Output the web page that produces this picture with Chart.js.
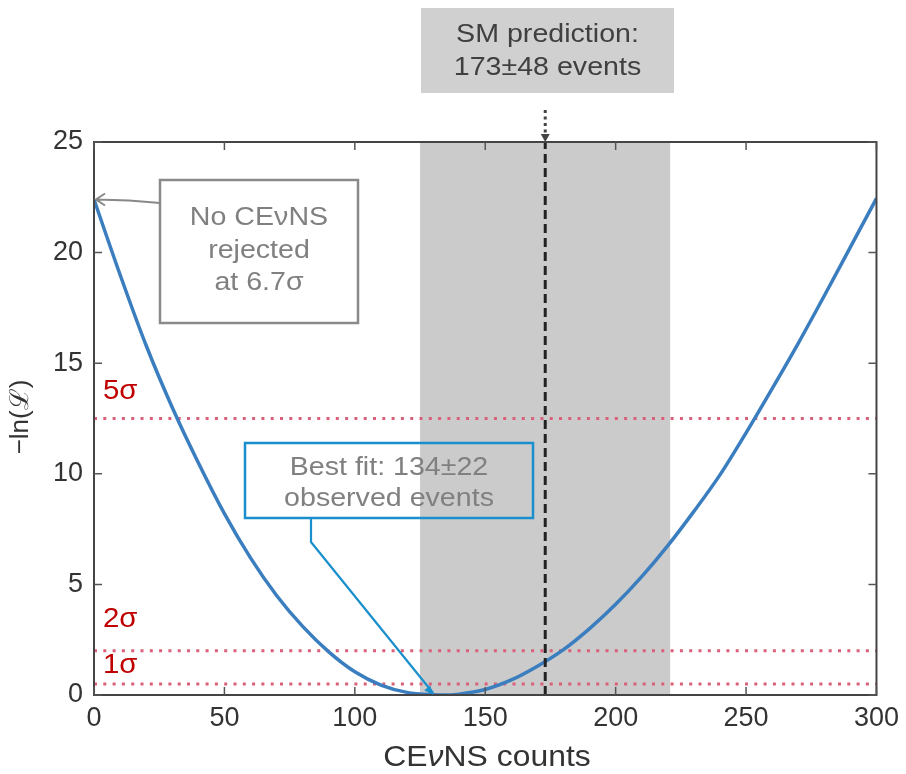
<!DOCTYPE html>
<html>
<head>
<meta charset="utf-8">
<script src="https://cdn.jsdelivr.net/npm/chart.js@4.4.1/dist/chart.umd.min.js"></script>
<style>
  html, body { margin: 0; padding: 0; background: #fff; }
  canvas { display: block; }
</style>
</head>
<body>
<canvas id="chart" width="906" height="774"></canvas>
<script>
// curve: -ln(L) against CEvNS counts
const counts = [0, 10, 20, 30, 40, 50, 60, 70, 80, 90, 100, 110, 120, 130, 134, 140, 150, 160, 170, 180, 190, 200, 210, 220, 230, 240, 250, 260, 270, 280, 290, 300];
const negLnL = [22.4, 19.0, 15.8, 13.0, 10.5, 8.2, 6.2, 4.5, 3.1, 1.95, 1.05, 0.45, 0.12, 0.01, 0, 0.04, 0.25, 0.68, 1.3, 2.05, 3.0, 4.1, 5.35, 6.75, 8.3, 9.95, 11.85, 13.85, 15.9, 18.05, 20.25, 22.45];

const sigmaLevels = [0.5, 2, 12.5];
const sigmaLabels = ["1σ", "2σ", "5σ"];
const smPrediction = 173;
const smBand = [125, 221];
const bestFitArrowAt = 130;
const xTicks = [0, 50, 100, 150, 200, 250, 300];
const yTicks = [0, 5, 10, 15, 20, 25];

const SANS = '"Liberation Sans", Arial, Helvetica, sans-serif';

function curvePoints() {
    return counts.map((c, i) => ({ x: c, y: negLnL[i] }));
}

function stretchText(ctx, text, x, y, sx) {
    ctx.save();
    ctx.translate(x, y);
    ctx.scale(sx, 1);
    ctx.fillText(text, 0, 0);
    ctx.restore();
}

function centerText(ctx, text, cx, y, sx) {
    const w = ctx.measureText(text).width * sx;
    ctx.textAlign = "left";
    stretchText(ctx, text, cx - w / 2, y, sx);
}

const datasets = [];
datasets.push({
    data: curvePoints(),
    borderColor: "#3b7ebf",
    borderWidth: 3.5,
    pointRadius: 0,
    cubicInterpolationMode: "monotone",
    fill: false,
    order: 2
});
datasets.push({
    data: [{ x: smBand[0], y: 25 }, { x: smBand[1], y: 25 }],
    borderWidth: 0,
    borderColor: "rgba(0,0,0,0)",
    backgroundColor: "#cbcbcb",
    pointRadius: 0,
    fill: "origin",
    order: 10
});
sigmaLevels.forEach(level => {
    datasets.push({
        data: [{ x: 0, y: level }, { x: 300, y: level }],
        borderColor: "#da5f78",
        borderWidth: 3,
        borderDash: [3, 6.3],
        pointRadius: 0,
        fill: false,
        order: 5
    });
});
datasets.push({
    data: [{ x: smPrediction, y: 0 }, { x: smPrediction, y: 25 }],
    borderColor: "#222",
    borderWidth: 3,
    borderDash: [9, 5],
    pointRadius: 0,
    fill: false,
    order: 0
});

const decorations = {
    id: "decorations",
    afterDatasetsDraw(chart) {
        const ctx = chart.ctx;
        const area = chart.chartArea;
        const xs = chart.scales.x;
        const ys = chart.scales.y;

        // frame + inward ticks on all sides
        ctx.save();
        ctx.strokeStyle = "#444";
        ctx.lineWidth = 2;
        ctx.strokeRect(area.left, area.top, area.right - area.left, area.bottom - area.top);
        ctx.lineWidth = 1.5;
        ctx.strokeStyle = "#555";
        ctx.beginPath();
        xTicks.forEach(t => {
            const px = xs.getPixelForValue(t);
            ctx.moveTo(px, area.bottom); ctx.lineTo(px, area.bottom - 8);
            ctx.moveTo(px, area.top); ctx.lineTo(px, area.top + 8);
        });
        yTicks.forEach(t => {
            const py = ys.getPixelForValue(t);
            ctx.moveTo(area.left, py); ctx.lineTo(area.left + 8, py);
            ctx.moveTo(area.right, py); ctx.lineTo(area.right - 8, py);
        });
        ctx.stroke();
        ctx.restore();

        ctx.save();
        ctx.textBaseline = "alphabetic";

        // sigma labels
        ctx.fillStyle = "#c00000";
        ctx.font = "28px " + SANS;
        ctx.textAlign = "left";
        const sigmaOffsets = [11, 24, 20];
        sigmaLevels.forEach((level, i) => {
            stretchText(ctx, sigmaLabels[i], 103, ys.getPixelForValue(level) - sigmaOffsets[i], 1.05);
        });

        // SM prediction box
        const smX = xs.getPixelForValue(smPrediction);
        ctx.fillStyle = "#d0d0d0";
        ctx.fillRect(421, 8, 253, 85);
        ctx.fillStyle = "#404040";
        ctx.font = "26px " + SANS;
        centerText(ctx, "SM prediction:", 547.5, 42, 1.1);
        centerText(ctx, "173±48 events", 547.5, 75, 1.1);

        // dotted arrow down onto the plot
        ctx.strokeStyle = "#444";
        ctx.lineWidth = 3;
        ctx.setLineDash([3, 3.5]);
        ctx.beginPath();
        ctx.moveTo(smX, 110);
        ctx.lineTo(smX, area.top - 8);
        ctx.stroke();
        ctx.setLineDash([]);
        ctx.fillStyle = "#444";
        ctx.beginPath();
        ctx.moveTo(smX - 4.5, area.top - 8);
        ctx.lineTo(smX + 4.5, area.top - 8);
        ctx.lineTo(smX, area.top);
        ctx.closePath();
        ctx.fill();

        // "No CEvNS rejected" box and arrow
        ctx.strokeStyle = "#8a8a8a";
        ctx.lineWidth = 2.5;
        ctx.strokeRect(160, 180, 198, 143);
        ctx.fillStyle = "#808080";
        ctx.font = "26px " + SANS;
        centerText(ctx, "No CEνNS", 259, 225, 1.1);
        centerText(ctx, "rejected", 259, 258, 1.1);
        centerText(ctx, "at 6.7σ", 259, 290, 1.1);

        const tipX = xs.getPixelForValue(0) + 2;
        const tipY = ys.getPixelForValue(negLnL[0]);
        ctx.strokeStyle = "#888";
        ctx.lineWidth = 2;
        ctx.beginPath();
        ctx.moveTo(160, 203);
        ctx.quadraticCurveTo(130, 200, tipX, tipY);
        ctx.moveTo(tipX + 9, tipY - 6);
        ctx.lineTo(tipX, tipY);
        ctx.lineTo(tipX + 9, tipY + 6);
        ctx.stroke();

        // best fit box and connector
        ctx.strokeStyle = "#1a8fcc";
        ctx.lineWidth = 2.5;
        ctx.strokeRect(245, 443, 288, 75);
        ctx.fillStyle = "#808080";
        ctx.font = "26px " + SANS;
        centerText(ctx, "Best fit: 134±22", 389, 475, 1.1);
        centerText(ctx, "observed events", 389, 506, 1.1);

        const bx = xs.getPixelForValue(bestFitArrowAt);
        const by = ys.getPixelForValue(0);
        ctx.lineWidth = 2.2;
        ctx.beginPath();
        ctx.moveTo(311, 519);
        ctx.lineTo(311, 542);
        ctx.lineTo(bx, by - 2);
        ctx.stroke();
        const ang = Math.atan2(by - 2 - 542, bx - 311);
        ctx.fillStyle = "#1a8fcc";
        ctx.beginPath();
        ctx.moveTo(bx, by);
        ctx.lineTo(bx - 10 * Math.cos(ang - 0.4), by - 10 * Math.sin(ang - 0.4));
        ctx.lineTo(bx - 10 * Math.cos(ang + 0.4), by - 10 * Math.sin(ang + 0.4));
        ctx.closePath();
        ctx.fill();

        // x axis title with italic nu
        ctx.fillStyle = "#333";
        const parts = [["CE", "29px " + SANS], ["ν", "italic 29px " + SANS], ["NS counts", "29px " + SANS]];
        let total = 0;
        parts.forEach(p => { ctx.font = p[1]; total += ctx.measureText(p[0]).width * 1.1; });
        let tx = 487 - total / 2;
        ctx.textAlign = "left";
        parts.forEach(p => {
            ctx.font = p[1];
            stretchText(ctx, p[0], tx, 766, 1.1);
            tx += ctx.measureText(p[0]).width * 1.1;
        });

        // y axis title
        ctx.save();
        ctx.translate(28, 417);
        ctx.rotate(-Math.PI / 2);
        ctx.font = "26px " + SANS;
        ctx.textAlign = "center";
        ctx.fillText("−ln(ℒ)", 0, 0);
        ctx.restore();

        ctx.restore();
    }
};

new Chart(document.getElementById("chart"), {
    type: "line",
    data: { datasets: datasets },
    options: {
        responsive: false,
        animation: false,
        layout: { padding: { top: 142, right: 28, left: 0, bottom: 0 } },
        plugins: { legend: { display: false }, tooltip: { enabled: false } },
        scales: {
            x: {
                type: "linear",
                min: 0,
                max: 300,
                afterBuildTicks: s => { s.ticks = xTicks.map(v => ({ value: v })); },
                afterFit: s => { s.height = 79; },
                ticks: { font: { size: 27, family: SANS }, color: "#333", padding: 7, maxRotation: 0 },
                grid: { display: false, drawTicks: false },
                border: { display: false }
            },
            y: {
                min: 0,
                max: 25,
                afterBuildTicks: s => { s.ticks = yTicks.map(v => ({ value: v })); },
                afterFit: s => { s.width = 94; },
                ticks: { font: { size: 27, family: SANS }, color: "#333", padding: 11 },
                grid: { display: false, drawTicks: false },
                border: { display: false }
            }
        }
    },
    plugins: [decorations]
});
</script>
</body>
</html>
